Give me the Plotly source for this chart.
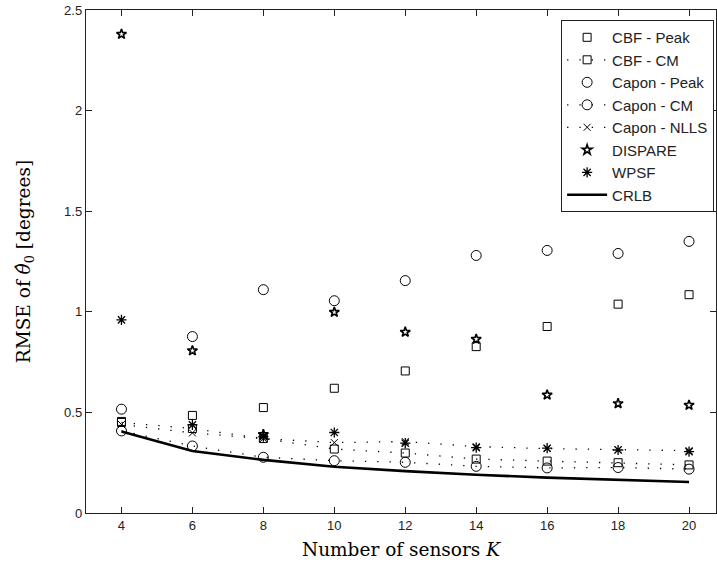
import plotly.graph_objects as go

K = [4, 6, 8, 10, 12, 14, 16, 18, 20]
cbf_peak = [0.455, 0.485, 0.524, 0.620, 0.706, 0.827, 0.927, 1.038, 1.085]
cbf_cm = [0.450, 0.420, 0.370, 0.318, 0.298, 0.268, 0.258, 0.250, 0.239]
capon_peak = [0.516, 0.877, 1.110, 1.055, 1.155, 1.280, 1.305, 1.290, 1.350]
capon_cm = [0.408, 0.333, 0.277, 0.260, 0.252, 0.232, 0.224, 0.226, 0.218]
capon_nlls = [0.440, 0.398, 0.370, 0.350, 0.355, 0.330, 0.320, 0.315, 0.310]
dispare = [2.380, 0.807, 0.390, 0.998, 0.899, 0.864, 0.587, 0.544, 0.536]
wpsf = [0.960, 0.438, 0.380, 0.400, 0.347, 0.325, 0.322, 0.313, 0.305]
crlb = [0.405, 0.308, 0.264, 0.230, 0.208, 0.190, 0.176, 0.164, 0.154]

fig = go.Figure()
DOT = "1.3px,11px"

def add(name, y, symbol, size, mode, lw=1):
    fig.add_trace(go.Scatter(
        x=K, y=y, name=name, mode=mode,
        marker=dict(symbol=symbol, size=size, color="black",
                    line=dict(color="black", width=lw)),
        line=dict(color="black", width=1.3, dash=DOT),
    ))

add("CBF - Peak", cbf_peak, "square-open", 8, "markers")
add("CBF - CM", cbf_cm, "square-open", 8, "lines+markers")
add("Capon - Peak", capon_peak, "circle-open", 10, "markers")
add("Capon - CM", capon_cm, "circle-open", 10, "lines+markers")
add("Capon - NLLS", capon_nlls, "x-thin-open", 7, "lines+markers")
add("DISPARE", dispare, "star-open", 7.5, "markers", 1.6)
add("WPSF", wpsf, "asterisk-open", 8.5, "markers", 1.3)
fig.add_trace(go.Scatter(x=K, y=crlb, name="CRLB", mode="lines",
                         line=dict(color="black", width=2.6)))

axis_common = dict(
    showline=True, linecolor="#222222", linewidth=1.4, mirror="ticks",
    ticks="inside", ticklen=6, tickcolor="#222222", tickwidth=1,
    showgrid=False, zeroline=False,
    tickfont=dict(family="Liberation Sans, Arial", size=13, color="#222222"),
)

title_font = dict(family="DejaVu Serif", size=18.5, color="black")

fig.update_layout(
    width=717, height=575,
    margin=dict(l=86, r=1, t=10, b=62),
    paper_bgcolor="white", plot_bgcolor="white",
    xaxis=dict(range=[3, 20.76], tickvals=K, ticktext=[str(k) for k in K],
               title=dict(text="Number of sensors <i>K</i>",
                          font=title_font, standoff=11),
               **axis_common),
    yaxis=dict(range=[0, 2.5], tickvals=[0, 0.5, 1, 1.5, 2, 2.5],
               ticktext=["0", "0.5", "1", "1.5", "2", "2.5"],
               title=dict(text="RMSE of <i>θ̂</i><sub>0</sub> [degrees]",
                          font=title_font, standoff=28),
               **axis_common),
    legend=dict(x=0.997, y=0.980, xanchor="right", yanchor="top",
                bordercolor="#222222", borderwidth=1, bgcolor="white",
                font=dict(family="Liberation Sans, Arial", size=15, color="#222222"),
                tracegroupgap=0, itemwidth=40),
    showlegend=True,
)

fig.write_html("out.html")
